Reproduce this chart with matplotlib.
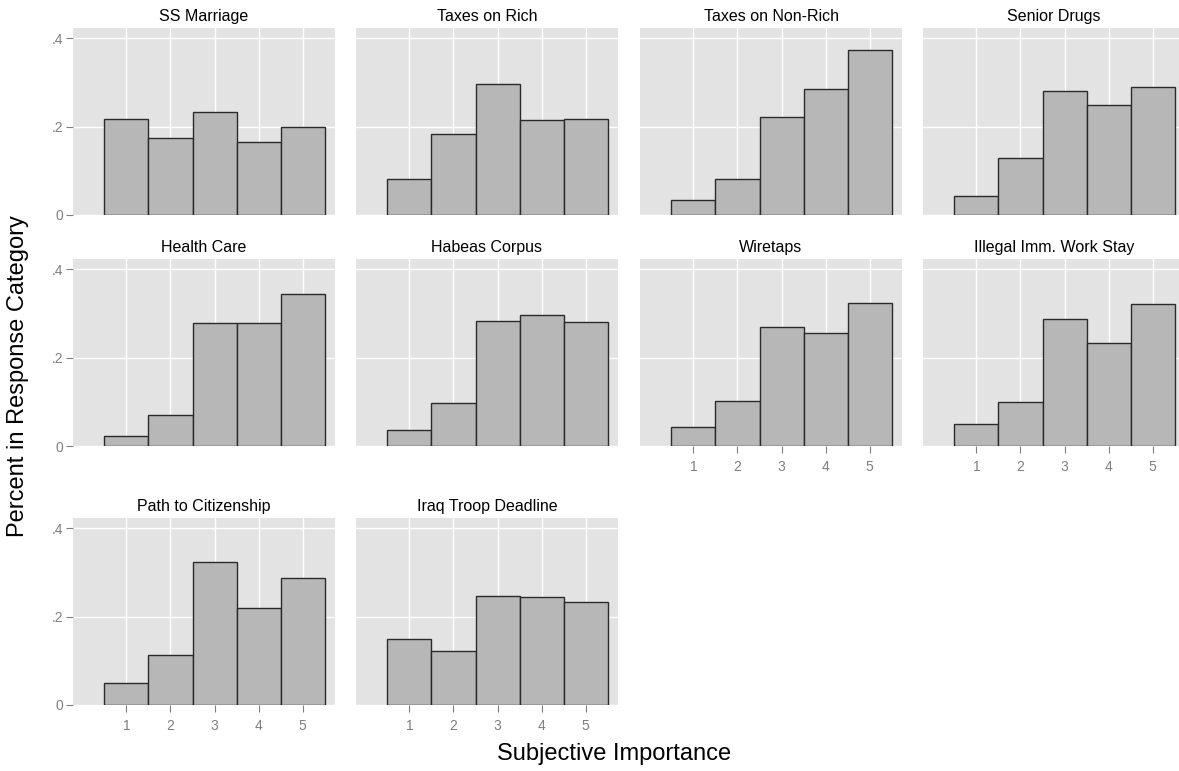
import matplotlib
matplotlib.use("Agg")
import matplotlib.pyplot as plt
import numpy as np

plt.rcParams['font.family'] = ['Liberation Sans', 'DejaVu Sans']

# Issue panels, in facet order (row by row, four per row)
issues = [
    "SS Marriage", "Taxes on Rich", "Taxes on Non-Rich", "Senior Drugs",
    "Health Care", "Habeas Corpus", "Wiretaps", "Illegal Imm. Work Stay",
    "Path to Citizenship", "Iraq Troop Deadline",
]

# Subjective importance categories
importance = [1, 2, 3, 4, 5]

# Share of respondents in each importance category, per issue
ss_marriage = [0.216, 0.175, 0.233, 0.166, 0.200]
taxes_rich = [0.081, 0.182, 0.295, 0.214, 0.218]
taxes_nonrich = [0.034, 0.081, 0.221, 0.285, 0.373]
senior_drugs = [0.044, 0.128, 0.280, 0.249, 0.290]
health_care = [0.023, 0.070, 0.277, 0.278, 0.343]
habeas_corpus = [0.037, 0.097, 0.282, 0.296, 0.280]
wiretaps = [0.042, 0.101, 0.268, 0.256, 0.324]
illegal_imm = [0.050, 0.099, 0.287, 0.233, 0.321]
path_citizenship = [0.050, 0.114, 0.323, 0.219, 0.288]
iraq_deadline = [0.150, 0.121, 0.247, 0.245, 0.232]

shares = [ss_marriage, taxes_rich, taxes_nonrich, senior_drugs,
          health_care, habeas_corpus, wiretaps, illegal_imm,
          path_citizenship, iraq_deadline]

y_ticks = [0, 0.2, 0.4]
y_tick_labels = ["0", ".2", ".4"]

W, H = 1179, 771
fig = plt.figure(figsize=(W / 100, H / 100), dpi=100)

col_left = [73, 356, 640, 923]
panel_w = 262
row_bottom = [215, 446, 705]
panel_h = 187

ncol = 4
n = len(issues)
grey_txt = "#7F7F7F"

for i, (name, vals) in enumerate(zip(issues, shares)):
    r, c = divmod(i, ncol)
    left = col_left[c] / W
    bottom = 1 - row_bottom[r] / H
    ax = fig.add_axes([left, bottom, panel_w / W, panel_h / H])
    ax.set_facecolor("#E3E3E3")
    ax.bar(importance, vals, width=1.0, color="#B7B7B7",
           edgecolor="#2A2A2A", linewidth=1.0, zorder=3)
    ax.set_xlim(-0.21, 5.73)
    ax.set_ylim(0, 0.4226)
    ax.set_xticks(importance)
    ax.set_yticks(y_ticks)
    ax.grid(True, color="white", linewidth=1.0, zorder=0)
    ax.set_axisbelow(True)
    for s in ax.spines.values():
        s.set_visible(False)

    # Axis labels only on the outer panels of the facet grid
    show_y = (c == 0)
    below_idx = i + ncol
    show_x = below_idx >= n
    ax.tick_params(axis="y", length=5 if show_y else 0, width=0.8,
                   color=grey_txt, labelcolor=grey_txt, labelsize=10, pad=2)
    ax.tick_params(axis="x", length=5 if show_x else 0, width=0.8,
                   color=grey_txt, labelcolor=grey_txt, labelsize=10, pad=5)
    if show_y:
        ax.set_yticklabels(y_tick_labels)
    else:
        ax.set_yticklabels([])
    if show_x:
        ax.set_xticklabels([str(v) for v in importance])
    else:
        ax.set_xticklabels([])

    ax.set_title(name, fontsize=11.5, color="black", pad=5)

fig.text(614 / W, 1 - 754 / H, "Subjective Importance", fontsize=17,
         ha="center", va="center")
fig.text(18 / W, 1 - 376 / H, "Percent in Response Category", fontsize=17,
         ha="center", va="center", rotation=90)

fig.savefig("out.png", dpi=100, facecolor="white")
